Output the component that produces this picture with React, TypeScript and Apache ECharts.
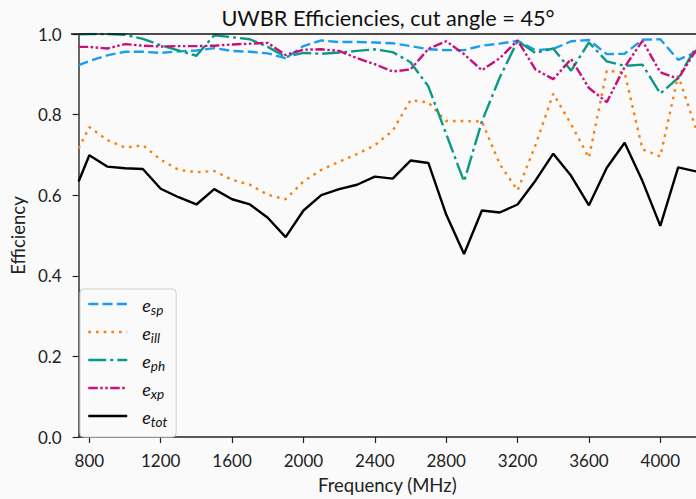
import React, { useEffect, useRef } from "react";
import * as echarts from "echarts";

const freqs = [740, 800, 900, 1000, 1100, 1200, 1300, 1400, 1500, 1600, 1700, 1800, 1900, 2000, 2100, 2200, 2300, 2400, 2500, 2600, 2700, 2800, 2900, 3000, 3100, 3200, 3300, 3400, 3500, 3600, 3700, 3800, 3900, 4000, 4100, 4200];

const eSp = [0.923, 0.933, 0.947, 0.956, 0.956, 0.953, 0.957, 0.959, 0.965, 0.958, 0.956, 0.952, 0.940, 0.970, 0.984, 0.980, 0.980, 0.979, 0.977, 0.970, 0.962, 0.960, 0.960, 0.971, 0.976, 0.983, 0.960, 0.963, 0.982, 0.985, 0.950, 0.951, 0.986, 0.987, 0.936, 0.955];
const eIll = [0.716, 0.769, 0.737, 0.718, 0.724, 0.688, 0.663, 0.657, 0.660, 0.638, 0.626, 0.601, 0.590, 0.634, 0.663, 0.683, 0.702, 0.724, 0.760, 0.836, 0.830, 0.784, 0.784, 0.783, 0.677, 0.612, 0.724, 0.852, 0.776, 0.693, 0.909, 0.904, 0.714, 0.696, 0.897, 0.765];
const ePh = [0.999, 1.0, 1.0, 0.998, 0.988, 0.972, 0.959, 0.946, 0.997, 0.992, 0.987, 0.968, 0.943, 0.953, 0.951, 0.954, 0.958, 0.962, 0.955, 0.930, 0.870, 0.752, 0.634, 0.783, 0.892, 0.983, 0.953, 0.964, 0.909, 0.979, 0.932, 0.921, 0.924, 0.852, 0.891, 0.967];
const eXp = [0.968, 0.968, 0.964, 0.975, 0.971, 0.969, 0.970, 0.970, 0.971, 0.974, 0.976, 0.978, 0.948, 0.961, 0.962, 0.958, 0.940, 0.925, 0.907, 0.912, 0.963, 0.982, 0.950, 0.910, 0.940, 0.984, 0.912, 0.888, 0.938, 0.866, 0.831, 0.918, 0.983, 0.905, 0.889, 0.960];
const eTot = [0.634, 0.699, 0.671, 0.667, 0.665, 0.616, 0.595, 0.577, 0.615, 0.590, 0.577, 0.544, 0.496, 0.562, 0.600, 0.615, 0.626, 0.646, 0.641, 0.686, 0.680, 0.552, 0.454, 0.562, 0.557, 0.577, 0.636, 0.703, 0.648, 0.575, 0.668, 0.730, 0.635, 0.524, 0.669, 0.659];

const xTicks = [800, 1200, 1600, 2000, 2400, 2800, 3200, 3600, 4000];

const seriesNames = ["e_sp", "e_ill", "e_ph", "e_xp", "e_tot"];
const seriesValues = [eSp, eIll, ePh, eXp, eTot];
const seriesColors = ["#1a9cef", "#ff7f0e", "#0a9985", "#c8107c", "#000000"];
const seriesDash: any[] = [[10, 4.3], [2.7, 5], [18, 4, 3, 4], [9.5, 2.5, 2.5, 2.5, 2.5, 2.5], "solid"];

const FONT = "Lato";

export default function App() {
  const ref = useRef<HTMLDivElement>(null);
  useEffect(() => {
    if (!ref.current) return;
    const chart = echarts.init(ref.current, null, { renderer: "svg" });
    const option: any = {
      animation: false,
      backgroundColor: "#fafafa",
      textStyle: { fontFamily: FONT, color: "#222" },
      title: {
        text: "UWBR Efficiencies, cut angle = 45°",
        left: 383,
        textAlign: "center",
        top: 2,
        textStyle: { fontFamily: FONT, fontSize: 21.7, fontWeight: "normal", color: "#111" },
      },
      grid: { left: 71, top: 34, width: 626, bottom: 58, containLabel: false },
      xAxis: {
        type: "value",
        min: 740,
        max: 4200,
        name: "Frequency (MHz)",
        nameLocation: "middle",
        nameGap: 38,
        nameTextStyle: { fontFamily: FONT, fontSize: 18.5, color: "#222" },
        axisLine: { show: true, onZero: false, lineStyle: { color: "#222", width: 1.5 } },
        axisTick: { show: true, customValues: xTicks, length: 6, lineStyle: { color: "#222", width: 1.2 } },
        axisLabel: {
          customValues: xTicks,
          fontFamily: FONT,
          fontSize: 17,
          color: "#222",
          margin: 14.5,
          formatter: (v: number) => String(v),
        },
        splitLine: { show: false },
      },
      yAxis: {
        type: "value",
        min: 0,
        max: 1,
        interval: 0.2,
        name: "Efficiency",
        nameLocation: "middle",
        nameGap: 45,
        nameTextStyle: { fontFamily: FONT, fontSize: 18.5, color: "#222" },
        axisLine: { show: true, lineStyle: { color: "#333", width: 1.5 } },
        axisTick: { show: true, length: 6, lineStyle: { color: "#222", width: 1.2 } },
        axisLabel: {
          fontFamily: FONT,
          fontSize: 17,
          color: "#222",
          margin: 17,
          formatter: (v: number) => v.toFixed(1),
        },
        splitLine: { show: false },
      },
      legend: {
        orient: "vertical",
        left: 80,
        top: 289,
        padding: [7, 9, 8, 7],
        itemWidth: 39,
        itemHeight: 14,
        itemGap: 7,
        borderColor: "#cfcfcf",
        borderWidth: 1,
        borderRadius: 4,
        backgroundColor: "#fafafa",
        itemStyle: { opacity: 0, borderWidth: 0 },
        lineStyle: { width: 2.5 },
        data: seriesNames,
        formatter: (name: string) => `{e|e}{s|${name.split("_")[1]}}`,
        textStyle: {
          fontFamily: FONT,
          color: "#111",
          padding: [0, 0, 0, 10],
          rich: {
            e: { fontFamily: FONT, fontSize: 18, fontStyle: "italic", color: "#111", verticalAlign: "bottom", lineHeight: 20 },
            s: { fontFamily: FONT, fontSize: 13.5, fontStyle: "italic", color: "#111", verticalAlign: "bottom", lineHeight: 10, height: 8 },
          },
        },
      },
      graphic: [
        {
          type: "line",
          shape: { x1: 71, y1: 34, x2: 696, y2: 34 },
          style: { stroke: "#111", lineWidth: 1.5 },
          z: 100,
        },
      ],
      series: seriesNames.map((name, i) => ({
        name,
        type: "line",
        data: freqs.map((f, j) => [f, seriesValues[i][j]]),
        symbol: "none",
        clip: true,
        z: 2 + i,
        lineStyle: { color: seriesColors[i], width: 2.4, type: seriesDash[i] },
        itemStyle: { color: seriesColors[i] },
      })),
    };
    chart.setOption(option);
    return () => chart.dispose();
  }, []);
  return <div ref={ref} style={{ position: "fixed", left: 0, top: 0, width: 696, height: 499 }} />;
}
